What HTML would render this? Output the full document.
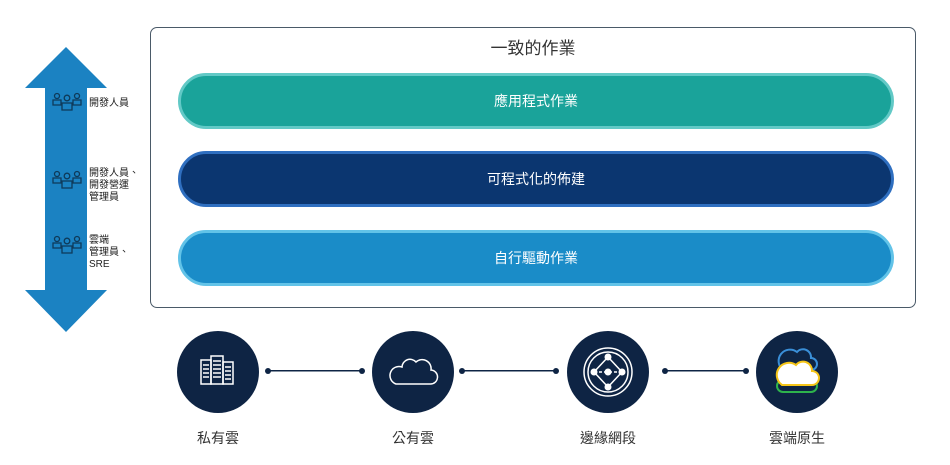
<!DOCTYPE html>
<html><head><meta charset="utf-8"><style>
body{margin:0;background:#fff;font-family:"Liberation Sans","Noto Sans CJK TC",sans-serif;}
.wrap{position:relative;width:950px;height:465px;overflow:hidden;}
.box{position:absolute;left:150px;top:27px;width:764px;height:279px;border:1px solid #4a5a68;border-radius:7px;}
.title{position:absolute;left:150px;width:766px;top:34px;text-align:center;font-size:17px;color:#333;}
.bar{position:absolute;left:178px;width:710px;height:50px;border-radius:28px;border:3px solid;color:#fff;font-size:14px;text-align:center;line-height:50px;}
.lbl{position:absolute;font-size:10px;color:#222;line-height:12px;}
.cap{position:absolute;top:428px;font-size:14px;color:#333;width:100px;text-align:center;}
</style></head><body><div class="wrap">
<svg width="950" height="465" style="position:absolute;left:0;top:0">
<polygon points="66,47 107,88 87,88 87,290 107,290 66,332 25,290 45,290 45,88 25,88" fill="#1b82c2"/>
<g fill="none" stroke="#0e3a5a" stroke-width="1.3">
<g id="p"><circle cx="57" cy="96" r="2.5"/><path d="M53,105v-5h8v5z"/><circle cx="67" cy="98" r="2.8"/><path d="M62,110v-7h10v7z"/><circle cx="77" cy="96" r="2.5"/><path d="M73,105v-5h8v5z"/></g>
<use href="#p" y="78"/><use href="#p" y="143"/>
</g>
<g fill="#0e2444">
<circle cx="218" cy="372" r="41"/><circle cx="413" cy="372" r="41"/><circle cx="608" cy="372" r="41"/><circle cx="797" cy="372" r="41"/>
<rect x="268" y="370" width="94" height="1.5"/><circle cx="268" cy="371" r="3"/><circle cx="362" cy="371" r="3"/>
<rect x="462" y="370" width="94" height="1.5"/><circle cx="462" cy="371" r="3"/><circle cx="556" cy="371" r="3"/>
<rect x="665" y="370" width="81" height="1.5"/><circle cx="665" cy="371" r="3"/><circle cx="746" cy="371" r="3"/>
</g>
<g fill="none" stroke="#fff" stroke-width="1.5">
<rect x="201" y="360" width="10" height="24"/><rect x="211" y="356" width="12" height="28"/><rect x="223" y="362" width="10" height="22"/>
<path d="M203,365h6M203,369h6M203,373h6M203,377h6M213,361h8M213,365h8M213,369h8M213,373h8M213,377h8M225,367h6M225,371h6M225,375h6M225,379h6"/>
<path d="M396,384h34a7,7 0 0 0 1,-14a9,9 0 0 0 -15,-8a8,8 0 0 0 -14,5a8,8 0 0 0 -6,17z"/>
<circle cx="608" cy="372" r="24"/><circle cx="608" cy="372" r="20"/>
<path d="M608,357l-14,15l14,15l14,-15z"/>
<path d="M594,372h28" stroke-dasharray="3,2"/>
</g>
<g fill="#fff"><circle cx="608" cy="357" r="3.5"/><circle cx="608" cy="387" r="3.5"/><circle cx="594" cy="372" r="3.5"/><circle cx="622" cy="372" r="3.5"/><circle cx="608" cy="372" r="3.5"/></g>
<g fill="none" stroke-width="2">
<path d="M783,370h28a6,6 0 0 0 0,-12a8,8 0 0 0 -14,-6a8,8 0 0 0 -14,18z" stroke="#3a8fd8"/>
<path d="M783,392h28a6,6 0 0 0 0,-12h-28a6,6 0 0 0 0,12z" stroke="#2eb34c"/>
<path d="M782,385h30a7,7 0 0 0 0,-14a9,9 0 0 0 -16,-6a8,8 0 0 0 -14,20z" stroke="#f5c518" fill="#fff"/>
</g>
</svg>
<div class="lbl" style="left:89px;top:98px">開發人員</div>
<div class="lbl" style="left:89px;top:168px">開發人員、<br>開發營運<br>管理員</div>
<div class="lbl" style="left:89px;top:235px">雲端<br>管理員、<br>SRE</div>
<div class="box"></div>
<div class="title">一致的作業</div>
<div class="bar" style="top:73px;background:#1aa39a;border-color:#62c9c6">應用程式作業</div>
<div class="bar" style="top:151px;background:#0b3670;border-color:#2f6fc0">可程式化的佈建</div>
<div class="bar" style="top:230px;background:#1a8cc8;border-color:#62c3e8">自行驅動作業</div>
<div class="cap" style="left:168px">私有雲</div>
<div class="cap" style="left:363px">公有雲</div>
<div class="cap" style="left:558px">邊緣網段</div>
<div class="cap" style="left:747px">雲端原生</div>
</div></body></html>
